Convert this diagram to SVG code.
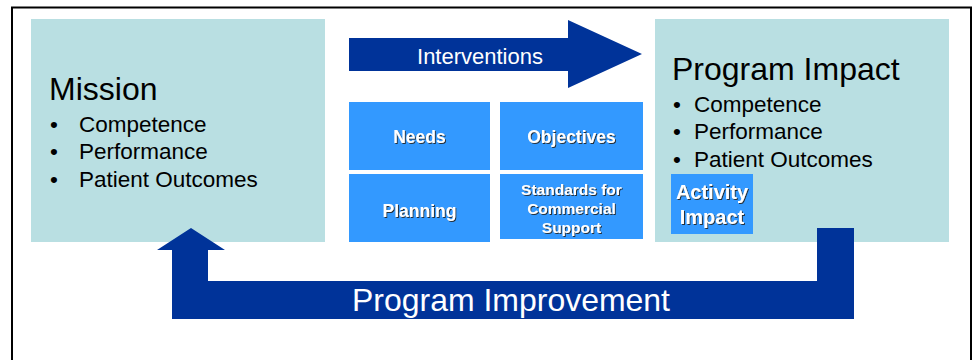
<svg xmlns="http://www.w3.org/2000/svg" width="973" height="360" viewBox="0 0 973 360">
<defs>
<filter id="sh" x="-10%" y="-20%" width="130%" height="150%">
<feDropShadow dx="1" dy="1" stdDeviation="0.4" flood-color="#222" flood-opacity="0.9"/>
</filter>
</defs>
<style>
.teal{fill:#B9DFE2}
.mid{fill:#3399FF}
.dark{fill:#003399}
.t{font-family:"Liberation Sans",Arial,sans-serif;fill:#000}
.h{font-size:32px}
.b{font-size:22.5px}
.w{font-family:"Liberation Sans",Arial,sans-serif;fill:#fff}
.wb{font-family:"Liberation Sans",Arial,sans-serif;fill:#fff;font-weight:bold;filter:url(#sh)}
</style>
<rect x="12" y="7.5" width="959" height="400" fill="#fff" stroke="#000" stroke-width="2"/>
<g id="mission">
<rect class="teal" x="31" y="19" width="294" height="223"/>
<text class="t h" x="49" y="100">Mission</text>
<text class="t b" x="50" y="132">•</text>
<text class="t b" x="79" y="132">Competence</text>
<text class="t b" x="50" y="159">•</text>
<text class="t b" x="79" y="159">Performance</text>
<text class="t b" x="50" y="187">•</text>
<text class="t b" x="79" y="187">Patient Outcomes</text>
</g>
<g id="impact">
<rect class="teal" x="655" y="19" width="294" height="223"/>
<text class="t h" x="672" y="80">Program Impact</text>
<text class="t b" x="673" y="112">•</text>
<text class="t b" x="694" y="112">Competence</text>
<text class="t b" x="673" y="139">•</text>
<text class="t b" x="694" y="139">Performance</text>
<text class="t b" x="673" y="167">•</text>
<text class="t b" x="694" y="167">Patient Outcomes</text>
</g>
<g id="activity">
<rect class="mid" x="671" y="174" width="82" height="60"/>
<text class="wb" x="712" y="199" font-size="20" text-anchor="middle">Activity</text>
<text class="wb" x="712" y="224" font-size="20" text-anchor="middle">Impact</text>
</g>
<g id="needs">
<rect class="mid" x="349" y="102" width="141" height="68"/>
<text class="wb" x="419.5" y="143" font-size="17.5" text-anchor="middle">Needs</text>
</g>
<g id="objectives">
<rect class="mid" x="500" y="102" width="143" height="68"/>
<text class="wb" x="571.5" y="143" font-size="17.5" text-anchor="middle">Objectives</text>
</g>
<g id="planning">
<rect class="mid" x="349" y="174" width="141" height="68"/>
<text class="wb" x="419.5" y="217" font-size="17.5" text-anchor="middle">Planning</text>
</g>
<g id="standards">
<rect class="mid" x="500" y="174" width="143" height="65"/>
<text class="wb" x="571.5" y="195" font-size="15.5" text-anchor="middle">Standards for</text>
<text class="wb" x="571.5" y="214" font-size="15.5" text-anchor="middle">Commercial</text>
<text class="wb" x="571.5" y="233" font-size="15.5" text-anchor="middle">Support</text>
</g>
<g id="connectors">
<g id="interventions">
<polygon class="dark" points="349,38 568,38 568,20 642,54 568,88 568,71 349,71"/>
<text class="w" x="480" y="64" font-size="22" text-anchor="middle">Interventions</text>
</g>
<g id="program-improvement">
<polygon class="dark" points="191,228 225,250 208,250 208,281 817,281 817,228 854,228 854,319 172,319 172,250 157,250"/>
<text class="w" x="511" y="311" font-size="32" text-anchor="middle" textLength="318" lengthAdjust="spacingAndGlyphs">Program Improvement</text>
</g>
</g>
</svg>
